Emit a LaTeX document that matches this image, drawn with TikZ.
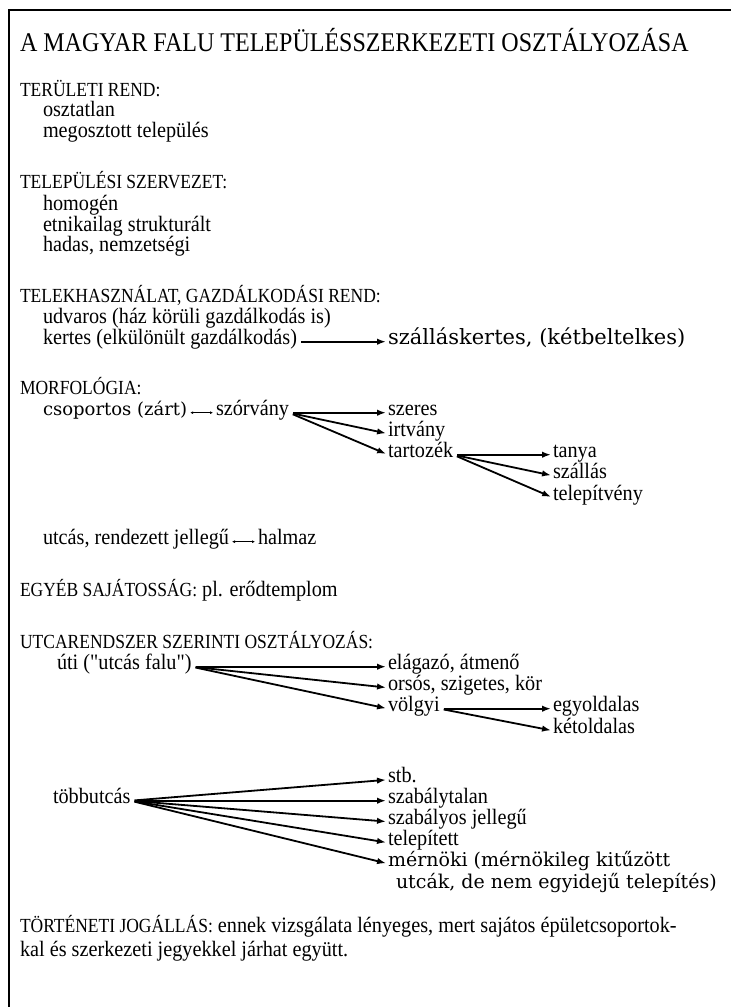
\documentclass[tikz,border=0pt]{standalone}
\usepackage{fontspec}
\setmainfont{Liberation Serif}
\newfontfamily\titlefont[FakeStretch=0.89]{Liberation Serif}
\newfontfamily\headfont[FakeStretch=0.875]{Liberation Serif}
\newfontfamily\itemfont[FakeStretch=0.92]{Liberation Serif}
\newfontfamily\widefont{DejaVu Serif}
\newcommand{\hdfont}{\headfont\fontsize{20}{23}\selectfont}
\usetikzlibrary{arrows.meta}

\begin{document}
\begin{tikzpicture}[x=1pt, y=-1pt,
        every node/.style={anchor=base west, inner sep=0pt, outer sep=0pt},
        title/.style={font=\titlefont\fontsize{27}{30}\selectfont},
        head/.style={font=\hdfont},
        item/.style={font=\itemfont\fontsize{22}{25}\selectfont},
        wide/.style={font=\widefont\fontsize{19}{23}\selectfont},
        widebig/.style={font=\widefont\fontsize{21}{24}\selectfont},
        widesmall/.style={font=\widefont\fontsize{18}{22}\selectfont},
        branch/.style={line width=1.8pt, -{Latex[length=9pt, width=6.5pt]}, shorten <=4pt, shorten >=2pt},
        twoway/.style={line width=0.6pt, {Latex[length=3pt, width=3pt]}-{Latex[length=3pt, width=3pt]}, shorten <=3pt, shorten >=3pt}]
    \useasboundingbox (0,0) rectangle (731,1007);
    \draw[line width=2pt] (731,10) -- (9,10) -- (9,1007);

    \node[title] (title) at (20,51) {A MAGYAR FALU TELEPÜLÉSSZERKEZETI OSZTÁLYOZÁSA};

    \node[head] (terulet) at (20,96) {TERÜLETI REND:};
    \node[item] (osztatlan) at (43,116) {osztatlan};
    \node[item] (megosztott) at (43,137) {megosztott település};

    \node[head] (szervezet) at (20,188) {TELEPÜLÉSI SZERVEZET:};
    \node[item] (homogen) at (43,210) {homogén};
    \node[item] (etnikai) at (43,231) {etnikailag strukturált};
    \node[item] (hadas) at (43,251) {hadas, nemzetségi};

    \node[head] (telek) at (20,302) {TELEKHASZNÁLAT, GAZDÁLKODÁSI REND:};
    \node[item] (udvaros) at (43,323) {udvaros (ház körüli gazdálkodás is)};
    \node[item] (kertes) at (43,344) {kertes (elkülönült gazdálkodás)};
    \node[widebig] (szallker) at (388,344) {szálláskertes, (kétbeltelkes)};
    \draw[branch] (kertes.mid east) -- (szallker.mid west |- kertes.mid east);

    \node[head] (morf) at (20,394) {MORFOLÓGIA:};
    \node[widesmall] (csop) at (43,415) {csoportos (zárt)};
    \node[item] (szorv) at (216,415) {szórvány};
    \node[item] (szeres) at (388,415) {szeres};
    \node[item] (irtvany) at (388,436) {irtvány};
    \node[item] (tartozek) at (388,457) {tartozék};
    \node[item] (tanya) at (553,457) {tanya};
    \node[item] (szallas) at (553,478) {szállás};
    \node[item] (telepitveny) at (553,500) {telepítvény};
    \draw[twoway] (csop.mid east) -- (szorv.mid west);
    \draw[branch] (szorv.mid east) -- (szeres.mid west);
    \draw[branch] (szorv.mid east) -- (irtvany.mid west);
    \draw[branch] (szorv.mid east) -- (tartozek.mid west);
    \draw[branch] (tartozek.mid east) -- (tanya.mid west);
    \draw[branch] (tartozek.mid east) -- (szallas.mid west);
    \draw[branch] (tartozek.mid east) -- (telepitveny.mid west);

    \node[item] (utcas) at (43,544) {utcás, rendezett jellegű};
    \node[item] (halmaz) at (258,544) {halmaz};
    \draw[twoway] (utcas.mid east) -- (halmaz.mid west);

    \node[item] (egyeb) at (20,596) {{\hdfont EGYÉB SAJÁTOSSÁG:} pl. erődtemplom};

    \node[head] (utcarend) at (20,648) {UTCARENDSZER SZERINTI OSZTÁLYOZÁS:};
    \node[item] (uti) at (57,669) {úti (\symbol{34}utcás falu\symbol{34})};
    \node[item] (elagazo) at (388,669) {elágazó, átmenő};
    \node[item] (orsos) at (388,690) {orsós, szigetes, kör};
    \node[item] (volgyi) at (388,711) {völgyi};
    \node[item] (egyold) at (553,711) {egyoldalas};
    \node[item] (ketold) at (553,733) {kétoldalas};
    \draw[branch] (uti.mid east) -- (elagazo.mid west);
    \draw[branch] (uti.mid east) -- (orsos.mid west);
    \draw[branch] (uti.mid east) -- (volgyi.mid west);
    \draw[branch] (volgyi.mid east) -- (egyold.mid west);
    \draw[branch] (volgyi.mid east) -- (ketold.mid west);

    \node[item] (stb) at (388,782) {stb.};
    \node[item] (tobb) at (53,803) {többutcás};
    \node[item] (szabtalan) at (388,803) {szabálytalan};
    \node[item] (szabjell) at (388,824) {szabályos jellegű};
    \node[item] (telepitett) at (388,845) {telepített};
    \node[wide] (mernoki) at (388,866) {mérnöki (mérnökileg kitűzött};
    \node[wide] (mernoki2) at (396,888) {utcák, de nem egyidejű telepítés)};
    \draw[branch] (tobb.mid east) -- (stb.mid west);
    \draw[branch] (tobb.mid east) -- (szabtalan.mid west);
    \draw[branch] (tobb.mid east) -- (szabjell.mid west);
    \draw[branch] (tobb.mid east) -- (telepitett.mid west);
    \draw[branch] (tobb.mid east) -- (mernoki.mid west);

    \node[item] (tortenet) at (20,932) {{\hdfont TÖRTÉNETI JOGÁLLÁS:} ennek vizsgálata lényeges, mert sajátos épületcsoportok-};
    \node[item] (tortenet2) at (20,956) {kal és szerkezeti jegyekkel járhat együtt.};
\end{tikzpicture}
\end{document}
